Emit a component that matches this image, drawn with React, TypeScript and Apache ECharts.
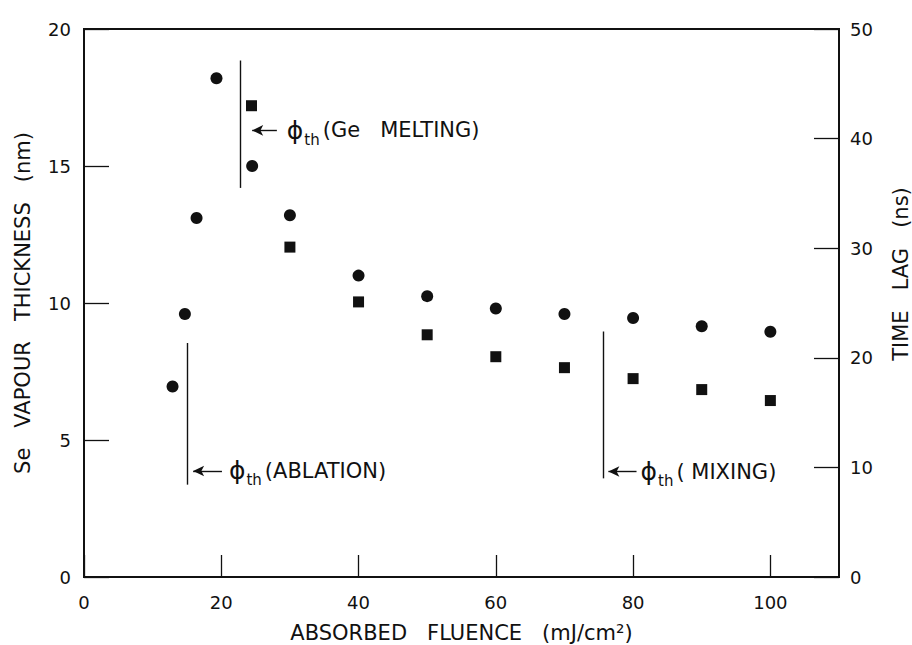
import React, { useEffect, useRef } from 'react';
import * as echarts from 'echarts';

// Se vapour thickness (nm), circles, left axis
const fluenceCircles = [12.9, 14.7, 16.4, 19.3, 24.5, 30, 40, 50, 60, 70, 80, 90, 100];
const thickness = [6.95, 9.6, 13.1, 18.2, 15.0, 13.2, 11.0, 10.25, 9.8, 9.6, 9.45, 9.15, 8.95];

// Time lag (ns), squares, right axis
const fluenceSquares = [24.4, 30, 40, 50, 60, 70, 80, 90, 100];
const timeLag = [43.0, 30.1, 25.1, 22.1, 20.1, 19.1, 18.1, 17.1, 16.1];

// Threshold markers (fluence, thickness units of left axis)
const thresholdNames = ['(Ge   MELTING)', '(ABLATION)', '( MIXING)'];
const thresholdX = [22.7, 15.0, 75.6];
const thresholdYFrom = [14.2, 3.37, 3.6];
const thresholdYTo = [18.85, 8.54, 8.96];
const arrowY = [16.3, 3.87, 3.85];
const arrowXTip = [24.5, 15.9, 76.4];
const arrowXTail = [28.1, 20.1, 80.5];
const labelGap = [10, 7, 4];

export default function App() {
  const ref = useRef<HTMLDivElement>(null);

  useEffect(() => {
    const chart = echarts.init(ref.current!, null, { renderer: 'svg' });
    const font = 'DejaVu Sans';
    const ink = '#111111';

    const vertLines = thresholdX.map((x, i) => [
      { coord: [x, thresholdYFrom[i]] },
      { coord: [x, thresholdYTo[i]] },
    ]);
    const arrows = thresholdX.map((_, i) => [
      {
        coord: [arrowXTip[i], arrowY[i]],
        label: {
          show: true,
          position: 'end',
          distance: labelGap[i],
          formatter: '{p|\u03D5}{s|th}{t|' + thresholdNames[i] + '}',
          rich: {
            p: { fontFamily: font, fontSize: 25, color: ink, lineHeight: 34 },
            s: { fontFamily: font, fontSize: 15, color: ink, verticalAlign: 'bottom', lineHeight: 15, padding: [0, 3, 0, 1] },
            t: { fontFamily: font, fontSize: 21, color: ink, lineHeight: 34 },
          },
        },
      },
      { coord: [arrowXTail[i], arrowY[i]] },
    ]);

    const axisLabelStyle = { fontFamily: font, fontSize: 18, color: ink };
    const nameStyle = { fontFamily: font, fontSize: 21, color: ink };

    chart.setOption({
      animation: false,
      backgroundColor: '#ffffff',
      grid: {
        left: 84,
        right: 73,
        top: 29,
        bottom: 68,
        outerBoundsMode: 'none',
        containLabel: false,
        show: true,
        borderColor: ink,
        borderWidth: 2,
        backgroundColor: 'transparent',
      },
      xAxis: {
        type: 'value',
        min: 0,
        max: 110,
        interval: 20,
        name: 'ABSORBED   FLUENCE   (mJ/cm\u00B2)',
        nameLocation: 'middle',
        nameGap: 45,
        nameTextStyle: { ...nameStyle, lineHeight: 22 },
        axisLine: { show: false },
        axisTick: { show: true, inside: true, length: 22, lineStyle: { color: ink, width: 1.3 } },
        axisLabel: { ...axisLabelStyle, margin: 16, showMaxLabel: false },
        splitLine: { show: false },
      },
      yAxis: [
        {
          type: 'value',
          min: 0,
          max: 20,
          interval: 5,
          position: 'left',
          name: 'Se   VAPOUR   THICKNESS   (nm)',
          nameLocation: 'middle',
          nameRotate: 90,
          nameGap: 51,
          nameTextStyle: nameStyle,
          axisLine: { show: false },
          axisTick: { show: true, inside: true, length: 25, lineStyle: { color: ink, width: 1.3 } },
          axisLabel: { ...axisLabelStyle, margin: 13 },
          splitLine: { show: false },
        },
        {
          type: 'value',
          min: 0,
          max: 50,
          interval: 10,
          position: 'right',
          name: 'TIME   LAG   (ns)',
          nameLocation: 'middle',
          nameRotate: 90,
          nameGap: 51,
          nameTextStyle: { ...nameStyle, padding: [0, 0, 0, 58] },
          axisLine: { show: false },
          axisTick: { show: true, inside: true, length: 25, lineStyle: { color: ink, width: 1.3 } },
          axisLabel: { ...axisLabelStyle, margin: 11 },
          splitLine: { show: false },
        },
      ],
      series: [
        {
          name: 'Se vapour thickness',
          type: 'scatter',
          yAxisIndex: 0,
          symbol: 'circle',
          symbolSize: 12,
          itemStyle: { color: ink, opacity: 1 },
          data: fluenceCircles.map((x, i) => [x, thickness[i]]),
          silent: true,
        },
        {
          name: 'Time lag',
          type: 'scatter',
          yAxisIndex: 1,
          symbol: 'rect',
          symbolSize: 11,
          itemStyle: { color: ink, opacity: 1 },
          data: fluenceSquares.map((x, i) => [x, timeLag[i]]),
          silent: true,
        },
        {
          name: 'thresholds',
          type: 'scatter',
          yAxisIndex: 0,
          data: [],
          silent: true,
          markLine: {
            silent: true,
            symbol: 'none',
            label: { show: false },
            lineStyle: { color: ink, width: 1.4, type: 'solid' },
            emphasis: { disabled: true },
            data: vertLines,
          },
        },
        {
          name: 'arrows',
          type: 'scatter',
          yAxisIndex: 0,
          data: [],
          silent: true,
          markLine: {
            silent: true,
            symbol: ['arrow', 'none'],
            symbolSize: [8, 11],
            label: { show: false },
            lineStyle: { color: ink, width: 1.4, type: 'solid' },
            emphasis: { disabled: true },
            data: arrows,
          },
        },
      ],
    });

    return () => chart.dispose();
  }, []);

  return (
    <div
      ref={ref}
      style={{ position: 'absolute', left: 0, top: 0, width: 912, height: 645 }}
    />
  );
}
